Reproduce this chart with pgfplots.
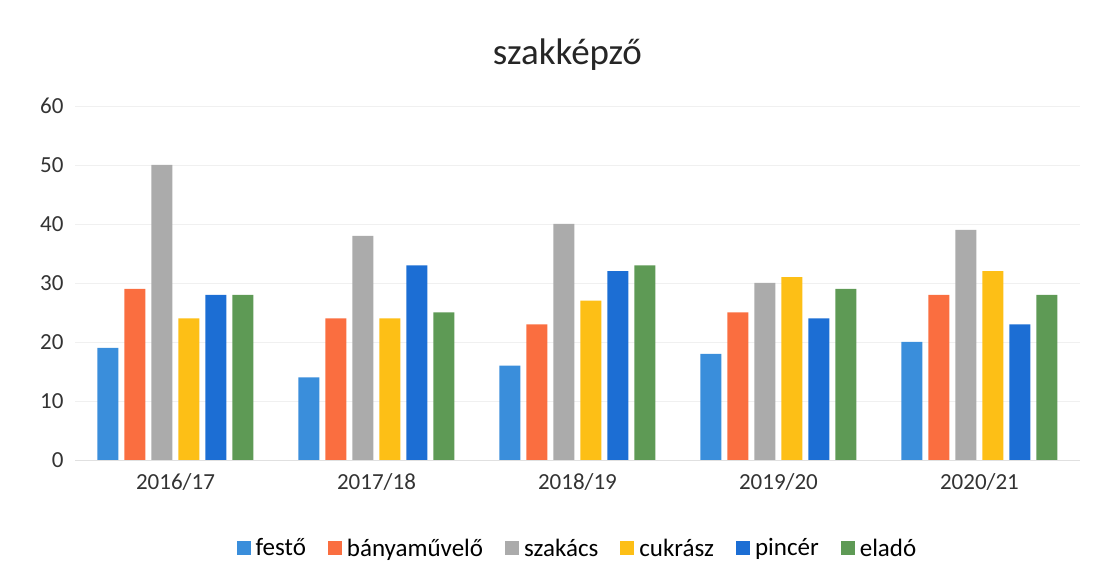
\documentclass[border=0pt]{standalone}
\usepackage{pgfplots}
\pgfplotsset{compat=1.18}
\usepackage{fontspec}
\setmainfont{Carlito}
\definecolor{cFesto}{HTML}{3A8EDB}
\definecolor{cBany}{HTML}{FA6E40}
\definecolor{cSzak}{HTML}{ABABAB}
\definecolor{cCukr}{HTML}{FDBF16}
\definecolor{cPinc}{HTML}{1C6ED4}
\definecolor{cElad}{HTML}{5E9A55}
\begin{document}
\begin{tikzpicture}
\path[use as bounding box] (0pt,0pt) rectangle (1109pt,581pt);
\begin{axis}[
  at={(75pt,121pt)}, anchor=south west,
  scale only axis,
  width=1005pt, height=354pt,
  ymin=0, ymax=60,
  xmin=-0.5, xmax=4.5,
  ytick={0,10,...,60},
  xtick={0,1,2,3,4},
  xticklabels={2016/17,2017/18,2018/19,2019/20,2020/21},
  ymajorgrids,
  grid style={black!6, line width=0.8pt},
  axis x line*=bottom,
  axis y line*=left,
  y axis line style={draw=none},
  x axis line style={black!12, line width=0.8pt, -},
  major tick length=0pt,
  tick label style={font=\fontsize{23}{26}\selectfont, text=black!80},
  /pgf/number format/assume math mode=true,
  yticklabel style={xshift=-8pt},
  xticklabel style={yshift=-10pt},
  ybar=6pt, bar width=21pt,
  clip=false,
  legend style={at={(0.5,-0.249)}, anchor=center, draw=none,
    legend columns=6, font=\fontsize{25}{28}\selectfont,
    /tikz/every odd column/.append style={column sep=3pt},
    /tikz/every even column/.append style={column sep=20pt}},
  legend image code/.code={\fill[#1] (0pt,-7pt) rectangle (14pt,7pt);},
]
\addplot[fill=cFesto, draw=none] coordinates {(0,19) (1,14) (2,16) (3,18) (4,20)};
\addplot[fill=cBany, draw=none] coordinates {(0,29) (1,24) (2,23) (3,25) (4,28)};
\addplot[fill=cSzak, draw=none] coordinates {(0,50) (1,38) (2,40) (3,30) (4,39)};
\addplot[fill=cCukr, draw=none] coordinates {(0,24) (1,24) (2,27) (3,31) (4,32)};
\addplot[fill=cPinc, draw=none] coordinates {(0,28) (1,33) (2,32) (3,24) (4,23)};
\addplot[fill=cElad, draw=none] coordinates {(0,28) (1,25) (2,33) (3,29) (4,28)};
\legend{festő,bányaművelő,szakács,cukrász,pincér,eladó}
\node[font=\fontsize{37}{42}\selectfont, text=black!85] at (axis description cs:0.49,1.144) {szakképző};
\end{axis}
\end{tikzpicture}
\end{document}
